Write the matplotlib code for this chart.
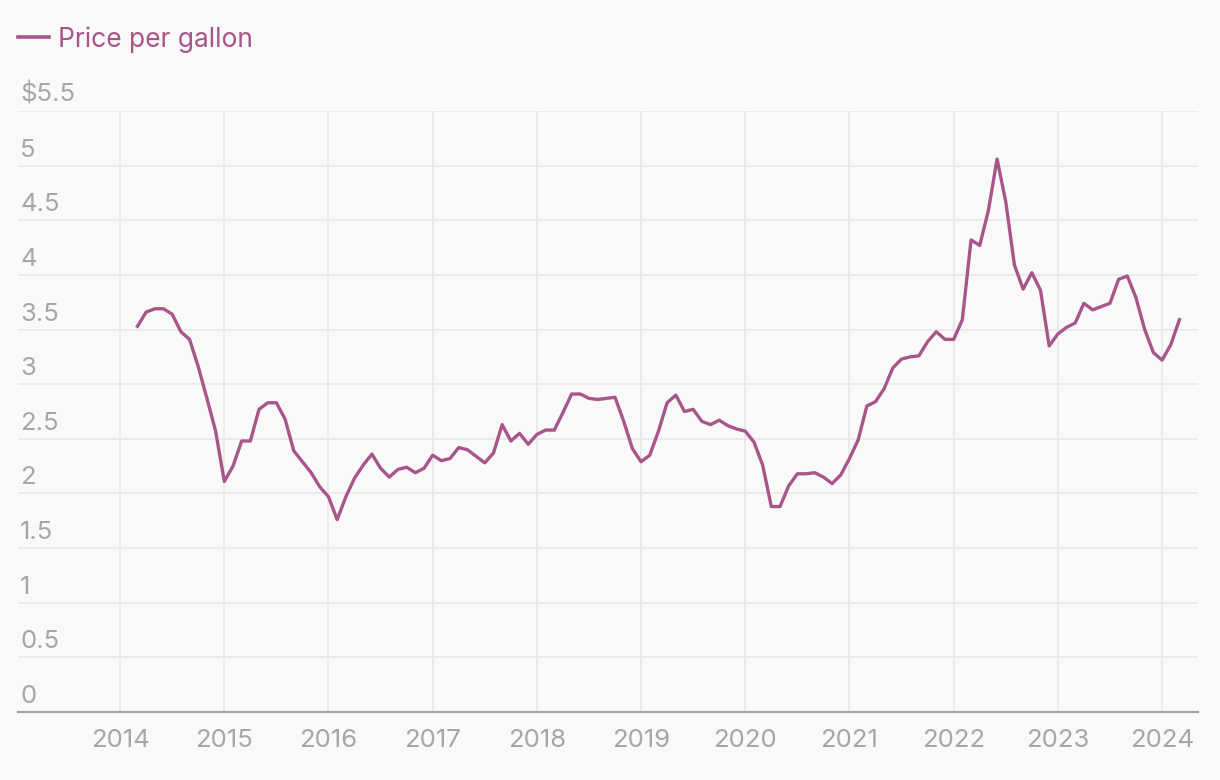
import matplotlib.pyplot as plt
import matplotlib.transforms as mtransforms
from matplotlib.lines import Line2D
import numpy as np

# monthly average price per gallon, Mar 2014 - Mar 2024
start_year = 2014
start_month = 3
prices = [
    # 2014 (Mar-Dec)
    3.53, 3.66, 3.69, 3.69, 3.64, 3.48, 3.41, 3.16, 2.87, 2.57,
    # 2015
    2.11, 2.25, 2.48, 2.48, 2.77, 2.83, 2.83, 2.68, 2.39, 2.29, 2.19, 2.06,
    # 2016
    1.97, 1.76, 1.97, 2.14, 2.26, 2.36, 2.23, 2.15, 2.22, 2.24, 2.19, 2.23,
    # 2017
    2.35, 2.30, 2.32, 2.42, 2.40, 2.34, 2.28, 2.37, 2.63, 2.48, 2.55, 2.45,
    # 2018
    2.54, 2.58, 2.58, 2.74, 2.91, 2.91, 2.87, 2.86, 2.87, 2.88, 2.66, 2.41,
    # 2019
    2.29, 2.35, 2.57, 2.83, 2.90, 2.75, 2.77, 2.66, 2.63, 2.67, 2.62, 2.59,
    # 2020
    2.57, 2.47, 2.26, 1.88, 1.88, 2.07, 2.18, 2.18, 2.19, 2.15, 2.09, 2.17,
    # 2021
    2.32, 2.49, 2.80, 2.84, 2.96, 3.15, 3.23, 3.25, 3.26, 3.39, 3.48, 3.41,
    # 2022
    3.41, 3.59, 4.32, 4.27, 4.59, 5.06, 4.67, 4.09, 3.87, 4.02, 3.86, 3.35,
    # 2023
    3.46, 3.52, 3.56, 3.74, 3.68, 3.71, 3.74, 3.96, 3.99, 3.79, 3.50, 3.29,
    # 2024
    3.22, 3.36, 3.59,
]
years = list(range(2014, 2025))
y_ticks = [0, 0.5, 1, 1.5, 2, 2.5, 3, 3.5, 4, 4.5, 5, 5.5]
y_labels = ["0", "0.5", "1", "1.5", "2", "2.5", "3", "3.5", "4", "4.5", "5", "$5.5"]
series_name = "Price per gallon"

line_color = "#a8568a"
text_gray = "#a6a6a6"
grid_color = "#e9e9e9"
bg = "#f9f9f9"

plt.rcParams["font.family"] = ["Inter", "DejaVu Sans"]

# decimal-year positions for each month
t = start_year + (start_month - 1) / 12 + np.arange(len(prices)) / 12

fig = plt.figure(figsize=(12.2, 7.8), dpi=100, facecolor=bg)
ax = fig.add_axes([18 / 1220, 1 - 712 / 780, 1180 / 1220, 601 / 780])
ax.set_facecolor(bg)

ax.plot(t, prices, color=line_color, linewidth=2.4, solid_joinstyle="round", zorder=3)

ax.set_xlim(2013.02, 2024.345)
ax.set_ylim(0, 5.5)

ax.set_xticks(years)
ax.set_xticklabels([str(y) for y in years])
ax.set_yticks(y_ticks)
ax.set_yticklabels([])
ax.tick_params(axis="both", length=0)
ax.tick_params(axis="x", colors=text_gray, labelsize=18.5, pad=12)

ax.grid(True, color=grid_color, linewidth=1.3)
ax.set_axisbelow(True)

for s in ["top", "right", "left"]:
    ax.spines[s].set_visible(False)
ax.spines["bottom"].set_color("#a3a3a3")
ax.spines["bottom"].set_linewidth(1.6)

# y labels sit just above their gridline, flush left
trans = mtransforms.blended_transform_factory(ax.transAxes, ax.transData)
trans = mtransforms.offset_copy(trans, fig=fig, x=2, y=9, units="dots")
for v, lab in zip(y_ticks, y_labels):
    ax.text(0, v, lab, transform=trans, ha="left", va="baseline",
            color=text_gray, fontsize=18.5)

# legend at top left
fig.add_artist(Line2D([18 / 1220, 49 / 1220], [1 - 37 / 780, 1 - 37 / 780],
                      color=line_color, linewidth=2.6, transform=fig.transFigure))
fig.text(58 / 1220, 1 - 47 / 780, series_name, color=line_color, fontsize=19,
         va="baseline", ha="left")

fig.savefig("out.png", dpi=100, facecolor=bg)
